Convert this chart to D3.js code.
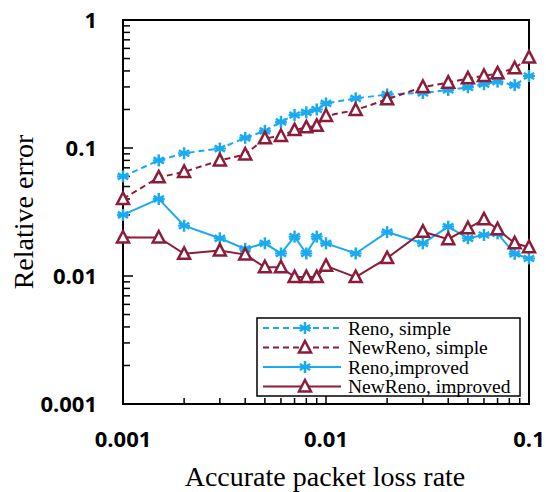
<!DOCTYPE html>
<html>
<head>
<meta charset="utf-8">
<script src="https://cdn.jsdelivr.net/npm/d3@7"></script>
<style>
  body { margin: 0; background: #fff; }
  svg { display: block; }
</style>
</head>
<body>
<script>
// loss rates on the x axis
var lossRates = [0.001, 0.0015, 0.002, 0.003, 0.004, 0.005, 0.006, 0.007, 0.008, 0.009,
  0.01, 0.014, 0.02, 0.03, 0.04, 0.05, 0.06, 0.07, 0.085, 0.1]

var renoSimple = [0.06, 0.08, 0.091, 0.099, 0.12, 0.136, 0.16, 0.181, 0.19, 0.2,
  0.223, 0.244, 0.262, 0.269, 0.284, 0.298, 0.315, 0.33, 0.31, 0.365]
var newRenoSimple = [0.04, 0.059, 0.065, 0.08, 0.089, 0.119, 0.124, 0.138, 0.145, 0.149,
  0.178, 0.198, 0.24, 0.30, 0.324, 0.35, 0.365, 0.383, 0.42, 0.51]
var renoImproved = [0.030, 0.040, 0.0247, 0.0197, 0.0163, 0.018, 0.015, 0.0203, 0.015, 0.0203,
  0.018, 0.015, 0.022, 0.018, 0.0243, 0.0197, 0.0209, 0.0215, 0.0149, 0.0137]
var newRenoImproved = [0.02, 0.02, 0.0149, 0.0158, 0.0147, 0.0117, 0.0117, 0.0098, 0.0098, 0.0098,
  0.012, 0.0098, 0.0138, 0.0222, 0.0194, 0.0236, 0.0277, 0.0232, 0.018, 0.0168]

var xTicks = [0.001, 0.01, 0.1]
var yTicks = [0.001, 0.01, 0.1, 1]

var blue = '#1aaaf0', red = '#8b1d3b'

var series = [
  {name: 'Reno, simple', values: renoSimple, color: blue, dash: '6,4', marker: 'star'},
  {name: 'NewReno, simple', values: newRenoSimple, color: red, dash: '6,4', marker: 'tri'},
  {name: 'Reno,improved', values: renoImproved, color: blue, dash: null, marker: 'star'},
  {name: 'NewReno, improved', values: newRenoImproved, color: red, dash: null, marker: 'tri'}
]

var W = 546, H = 492
var margin = {top: 20, right: 17, bottom: 88, left: 123}
var width = W - margin.left - margin.right,
  height = H - margin.top - margin.bottom

var x = d3.scaleLog().domain([0.001, 0.1]).range([0, width])
var y = d3.scaleLog().domain([0.001, 1]).range([height, 0])

var svg = d3.select('body').append('svg')
  .attr('width', W)
  .attr('height', H)

var g = svg.append('g')
  .attr('transform', 'translate(' + margin.left + ',' + margin.top + ')')

// minor ticks (2..9 of each decade)
function minors (lo, hi) {
  var out = []
  for (var e = lo; e < hi; e++) {
    for (var k = 2; k <= 9; k++) out.push(k * Math.pow(10, e))
  }
  return out
}

g.selectAll('.ymin').data(minors(-3, 0)).enter().append('line')
  .attr('x1', 0).attr('x2', 7)
  .attr('y1', d => y(d)).attr('y2', d => y(d))
  .attr('stroke', '#000').attr('stroke-width', 1.5)
g.selectAll('.ymaj').data(yTicks).enter().append('line')
  .attr('x1', 0).attr('x2', 10)
  .attr('y1', d => y(d)).attr('y2', d => y(d))
  .attr('stroke', '#000').attr('stroke-width', 1.5)
g.selectAll('.xmin').data(minors(-3, -1)).enter().append('line')
  .attr('x1', d => x(d)).attr('x2', d => x(d))
  .attr('y1', height).attr('y2', height - 6)
  .attr('stroke', '#000').attr('stroke-width', 1.5)
g.selectAll('.xmaj').data(xTicks).enter().append('line')
  .attr('x1', d => x(d)).attr('x2', d => x(d))
  .attr('y1', height).attr('y2', height - 9)
  .attr('stroke', '#000').attr('stroke-width', 1.5)

// frame
g.append('rect')
  .attr('width', width).attr('height', height)
  .attr('fill', 'none').attr('stroke', '#000').attr('stroke-width', 2)

// tick labels
var fmt = d => d3.format('~g')(d)
g.selectAll('.ylab').data(yTicks).enter().append('text')
  .attr('x', -26).attr('y', d => y(d)).attr('dy', '0.35em')
  .attr('text-anchor', 'end')
  .style('font', 'bold 22px "Open Sans", sans-serif')
  .text(fmt)
g.selectAll('.xlab').data(xTicks).enter().append('text')
  .attr('x', d => x(d)).attr('y', height + 43)
  .attr('text-anchor', 'middle')
  .style('font', 'bold 22px "Open Sans", sans-serif')
  .text(fmt)

// axis titles
svg.append('text')
  .attr('x', margin.left + width / 2 - 1).attr('y', 486)
  .attr('text-anchor', 'middle')
  .style('font', '28px "Liberation Serif", serif')
  .text('Accurate packet loss rate')
svg.append('text')
  .attr('transform', 'translate(33,' + (margin.top + height / 2) + ') rotate(-90)')
  .attr('text-anchor', 'middle')
  .style('font', '28px "Liberation Serif", serif')
  .text('Relative error')

function drawMarker (sel, type, color) {
  if (type === 'star') {
    var r = 6
    ;[0, 60, 120].forEach(function (a) {
      var rad = a * Math.PI / 180
      sel.append('line')
        .attr('x1', -r * Math.sin(rad)).attr('y1', -r * Math.cos(rad))
        .attr('x2', r * Math.sin(rad)).attr('y2', r * Math.cos(rad))
        .attr('stroke', color).attr('stroke-width', 2.5)
    })
    sel.append('line').attr('x1', -r).attr('x2', r).attr('y1', 0).attr('y2', 0)
      .attr('stroke', color).attr('stroke-width', 2)
  } else {
    sel.append('path')
      .attr('d', 'M0,-6.5L6,5L-6,5Z')
      .attr('fill', '#fff').attr('stroke', color).attr('stroke-width', 2.5)
  }
}

var line = d3.line()
  .x((d, i) => x(lossRates[i]))
  .y(d => y(d))

series.forEach(function (s) {
  g.append('path')
    .datum(s.values)
    .attr('d', line)
    .attr('fill', 'none')
    .attr('stroke', s.color)
    .attr('stroke-width', 2)
    .attr('stroke-dasharray', s.dash)
  s.values.forEach(function (v, i) {
    var m = g.append('g').attr('transform', 'translate(' + x(lossRates[i]) + ',' + y(v) + ')')
    drawMarker(m, s.marker, s.color)
  })
})

// legend
var lg = svg.append('g').attr('transform', 'translate(257,318)')
lg.append('rect')
  .attr('width', 263).attr('height', 78)
  .attr('fill', '#fff').attr('stroke', '#000').attr('stroke-width', 1.5)
series.forEach(function (s, i) {
  var row = lg.append('g').attr('transform', 'translate(0,' + (10 + i * 19.5) + ')')
  row.append('line')
    .attr('x1', 6).attr('x2', 84).attr('y1', 0).attr('y2', 0)
    .attr('stroke', s.color).attr('stroke-width', 2)
    .attr('stroke-dasharray', s.dash)
  drawMarker(row.append('g').attr('transform', 'translate(48,0)'), s.marker, s.color)
  row.append('text')
    .attr('x', 91).attr('y', 0).attr('dy', '0.35em')
    .style('font', '19.5px "Liberation Serif", serif')
    .text(s.name)
})
</script>
</body>
</html>
